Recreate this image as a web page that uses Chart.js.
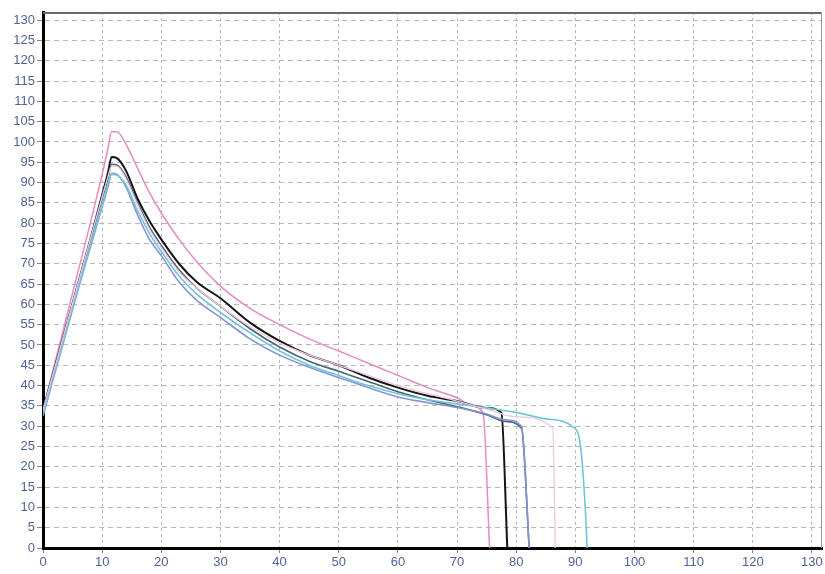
<!DOCTYPE html>
<html>
<head>
<meta charset="utf-8">
<script src="https://cdn.jsdelivr.net/npm/chart.js@4/dist/chart.umd.min.js"></script>
<style>
  html, body { margin: 0; padding: 0; background: #ffffff; }
  #wrap { width: 825px; height: 574px; position: relative; }
</style>
</head>
<body>
<div id="wrap"><canvas id="c" width="825" height="574"></canvas></div>
<script>
// ---- data ----
const pinkX = [0, 2, 4, 6, 8, 10, 11, 11.6, 12.5, 14, 16, 18, 20, 23, 26, 30, 35, 40, 45, 50, 55, 60, 65, 70, 72.5, 74.4, 75.5];
const pinkY = [34, 45.5, 57, 68.5, 80, 92, 98.5, 102.5, 102.5, 99.5, 93.5, 87.5, 82.5, 76, 70.5, 64.5, 59, 55, 51.5, 48.5, 45.5, 42.5, 39.5, 37, 35, 33.2, 0];

const lightPinkX = [0, 2, 4, 6, 8, 10, 11, 11.6, 12.5, 14, 16, 18, 20, 23, 26, 30, 35, 40, 45, 50, 55, 60, 65, 70, 75, 80, 86.2, 86.6];
const lightPinkY = [34, 44.5, 55, 65.5, 76, 86.5, 91.5, 94, 94, 91, 84.5, 78.5, 74, 68, 64, 59.5, 54.5, 50.5, 47.5, 45, 42.5, 40, 38, 36.2, 34.2, 32.3, 29.5, 0];

const blackX = [0, 2, 4, 6, 8, 10, 11, 11.6, 12.5, 14, 16, 18, 20, 23, 26, 30, 35, 40, 45, 50, 55, 60, 65, 70, 75, 77.5, 78.5];
const blackY = [34, 44.5, 55, 65.5, 76, 87, 92.5, 96.3, 96, 93, 86, 80.5, 76, 70, 65.5, 61.5, 55.5, 51, 47.5, 45, 42, 39.5, 37.5, 36.2, 34.5, 33.3, 0];

const slateX = [0, 2, 4, 6, 8, 10, 11, 11.6, 12.5, 14, 16, 18, 20, 23, 26, 30, 35, 40, 45, 50, 55, 60, 65, 70, 75, 78, 80.9, 82.2];
const slateY = [33.5, 44, 54.5, 65, 75.5, 86, 91, 94.5, 94.3, 91.5, 85, 79, 74.5, 68.5, 64, 59.5, 54, 49.5, 46, 43.5, 41, 38.5, 36.5, 34.8, 32.8, 31.2, 29.5, 0];

const periX = [0, 2, 4, 6, 8, 10, 11, 11.6, 12.5, 14, 16, 18, 20, 23, 26, 30, 35, 40, 45, 50, 55, 60, 65, 70, 75, 78, 80.9, 82.2];
const periY = [32.5, 43, 53.5, 64, 74, 84, 89, 92.3, 92, 89, 82, 76, 72, 65.5, 61, 56.8, 51.5, 47.5, 44.5, 42, 39.5, 37.2, 35.8, 34.6, 33, 31.6, 30, 0];

const cyanX = [0, 2, 4, 6, 8, 10, 11, 11.6, 12.5, 14, 16, 18, 20, 23, 26, 30, 35, 40, 45, 50, 55, 60, 65, 70, 75, 80, 85, 89.7, 90.9, 91.7, 92];
const cyanY = [33, 43.5, 54, 64.5, 74.5, 84.5, 89.5, 92, 91.8, 89.5, 83, 77.5, 73, 67, 62.5, 58, 53, 48.5, 45, 42.5, 40, 38, 36.5, 35.5, 34.5, 33.4, 31.8, 29.7, 24.8, 9.3, 0];

const xTickStep = 10;
const yTickStep = 5;
const xMax = 131.7;
const yMax = 132;

// ---- build ----
function pts(xs, ys) { return xs.map((x, i) => ({ x: x, y: ys[i] })); }

const series = [
  { label: 'S5', xs: lightPinkX, ys: lightPinkY, color: '#f0c6e2', w: 1.3 },
  { label: 'S6', xs: cyanX, ys: cyanY, color: '#70c6d6', w: 1.6 },
  { label: 'S4', xs: periX, ys: periY, color: '#8593d6', w: 1.6 },
  { label: 'S3', xs: slateX, ys: slateY, color: '#4a6476', w: 1.6 },
  { label: 'S2', xs: blackX, ys: blackY, color: '#151515', w: 2 },
  { label: 'S1', xs: pinkX, ys: pinkY, color: '#e38cc2', w: 1.5 }
];

const datasets = series.map(s => ({
  label: s.label,
  data: pts(s.xs, s.ys),
  borderColor: s.color,
  backgroundColor: s.color,
  borderWidth: s.w,
  pointRadius: 0,
  fill: false,
  tension: 0,
  cubicInterpolationMode: 'monotone'
}));

const frame = {
  id: 'frame',
  afterDraw(chart) {
    const a = chart.chartArea;
    const ctx = chart.ctx;
    ctx.save();
    ctx.strokeStyle = '#6a6a6a';
    ctx.lineWidth = 2;
    ctx.beginPath();
    ctx.moveTo(a.left, a.top + 1);
    ctx.lineTo(a.right, a.top + 1);
    ctx.stroke();
    ctx.strokeStyle = '#9a9a9a';
    ctx.lineWidth = 1;
    ctx.beginPath();
    ctx.moveTo(a.right - 0.5, a.top);
    ctx.lineTo(a.right - 0.5, a.bottom);
    ctx.stroke();
    ctx.restore();
  }
};

const labelColor = '#52629a';

new Chart(document.getElementById('c'), {
  type: 'line',
  data: { datasets: datasets },
  options: {
    responsive: false,
    animation: false,
    layout: { padding: { top: 12, right: 3, left: 0, bottom: 0 } },
    plugins: { legend: { display: false }, tooltip: { enabled: false } },
    scales: {
      x: {
        type: 'linear',
        min: 0,
        max: xMax,
        afterBuildTicks: (axis) => { axis.ticks = axis.ticks.filter(t => Math.abs(t.value % xTickStep) < 1e-6); },
        afterFit: (scale) => { scale.height = 26; },
        ticks: {
          stepSize: xTickStep,
          includeBounds: false,
          color: labelColor,
          font: { family: 'Liberation Sans, Arial, sans-serif', size: 13 },
          padding: 2,
          maxRotation: 0,
          autoSkip: false
        },
        grid: {
          color: '#b8b8b8',
          lineWidth: 1,
          tickLength: 5,
          tickColor: '#888888',
          drawTicks: true
        },
        border: { display: true, color: '#000000', width: 3, dash: [3, 3] }
      },
      y: {
        type: 'linear',
        min: 0,
        max: yMax,
        afterBuildTicks: (axis) => { axis.ticks = axis.ticks.filter(t => Math.abs(t.value % yTickStep) < 1e-6); },
        afterFit: (scale) => { scale.width = 43; },
        ticks: {
          stepSize: yTickStep,
          includeBounds: false,
          color: labelColor,
          font: { family: 'Liberation Sans, Arial, sans-serif', size: 13 },
          padding: 2,
          autoSkip: false
        },
        grid: {
          color: '#b8b8b8',
          lineWidth: 1,
          tickLength: 6,
          tickColor: '#888888',
          drawTicks: true
        },
        border: { display: true, color: '#000000', width: 3, dash: [5, 4] }
      }
    }
  },
  plugins: [frame]
});
</script>
</body>
</html>
